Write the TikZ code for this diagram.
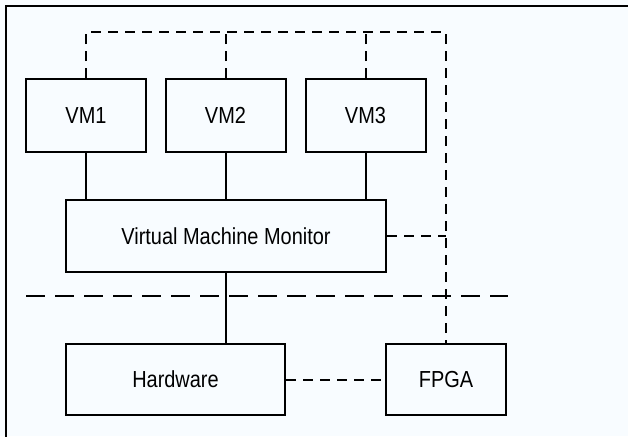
\documentclass[tikz,border=0pt]{standalone}
\usepackage{fontspec}
\setmainfont{Liberation Sans}
\newfontfamily\labelfont[FakeStretch=0.86]{Liberation Sans}
\definecolor{paper}{RGB}{248,252,255}

\tikzset{
  box/.style={draw,line width=1pt,rectangle,inner sep=0pt,font=\labelfont\fontsize{11.6}{13}\selectfont},
  link/.style={line width=1pt},
  dlink/.style={line width=1pt,dash pattern=on 5pt off 3.5pt},
}

\begin{document}
\begin{tikzpicture}[x=.5pt,y=.5pt]
      \fill[paper] (0,0) rectangle (628,436);
      \useasboundingbox (0,0) rectangle (628,436);
      % outer frame (only top and left edge fall inside)
      \draw[line width=1pt] (5.5,-5) -- (5.5,430) -- (640,430);

      \node[box,minimum width=60pt,minimum height=36.5pt] (vm1) at (86,320.5) {VM1};
      \node[box,minimum width=60pt,minimum height=36.5pt] (vm2) at (225.5,320.5) {VM2};
      \node[box,minimum width=60pt,minimum height=36.5pt] (vm3) at (365.5,320.5) {VM3};
      \node[box,minimum width=160pt,minimum height=36pt] (vmm) at (226,200) {Virtual Machine Monitor};
      \node[box,minimum width=109.5pt,minimum height=35.5pt] (hw) at (175.5,56.5) {Hardware};
      \node[box,minimum width=60pt,minimum height=35.5pt] (fpga) at (446,56.5) {FPGA};

      \coordinate (top) at (0,404);
      \coordinate (sepL) at (26,140);
      \coordinate (sepR) at (508,140);

      % solid links
      \draw[link] (vm1.south) -- (vm1.south |- vmm.north);
      \draw[link] (vm2.south) -- (vm2.south |- vmm.north);
      \draw[link] (vm3.south) -- (vm3.south |- vmm.north);
      \draw[link] (vmm.south) -- (vmm.south |- hw.north);

      % dashed bus to the FPGA
      \draw[dlink] (vm1.north) |- (fpga.north |- top) -- (fpga.north);
      \draw[dlink] (vm2.north) -- (vm2.north |- top);
      \draw[dlink] (vm3.north) -- (vm3.north |- top);
      \draw[dlink] (vmm.east) -- (vmm.east -| fpga.north);
      \draw[dlink] (hw.east) -- (fpga.west);

      % separator
      \draw[line width=1pt,dash pattern=on 9.5pt off 5pt] (sepL) -- (sepR);
    \end{tikzpicture}
\end{document}
